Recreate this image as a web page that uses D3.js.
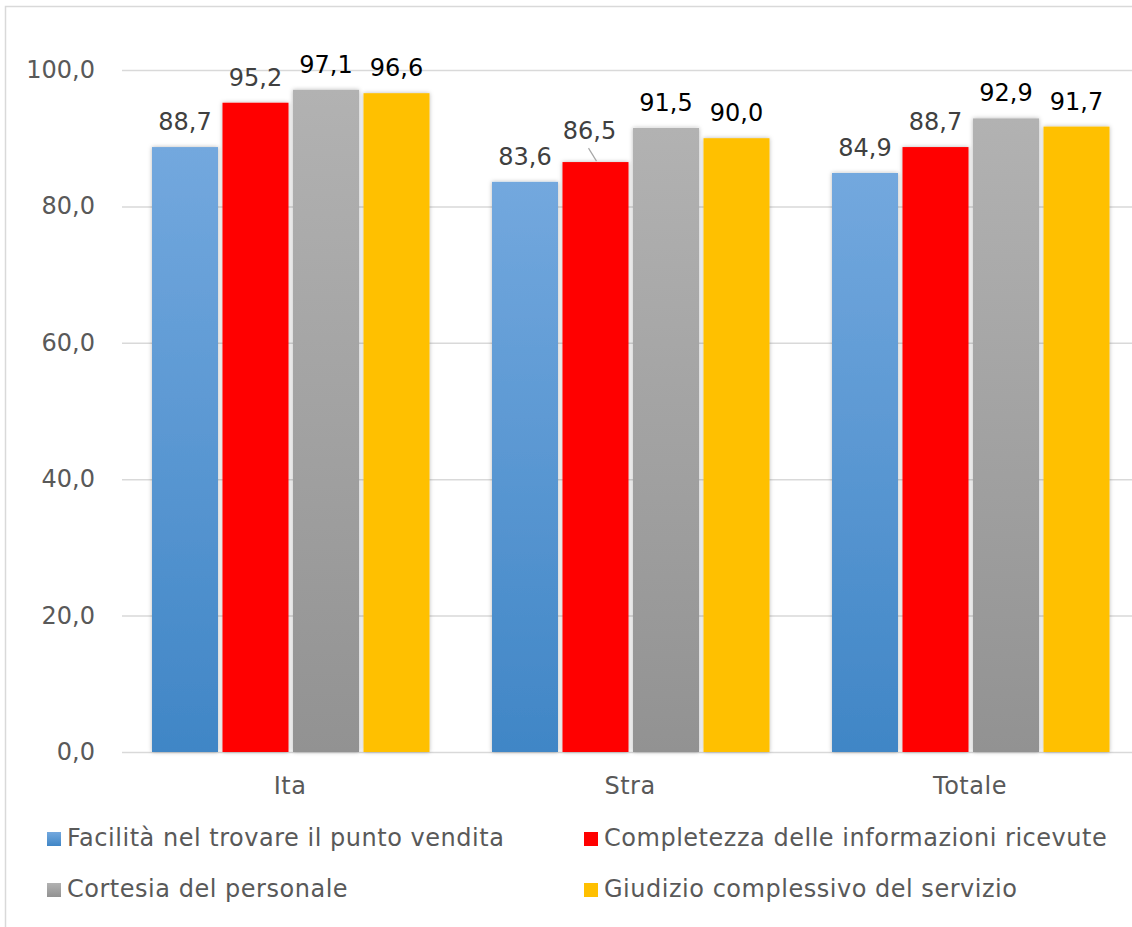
<!DOCTYPE html>
<html><head><meta charset="utf-8">
<script src="https://cdn.jsdelivr.net/npm/d3@7/dist/d3.min.js"></script>
<style>
html,body{margin:0;padding:0;background:#fff;}
svg{display:block;font-family:"DejaVu Sans",Verdana,sans-serif;}
</style></head>
<body>
<script>
const categories = ["Ita", "Stra", "Totale"];
const seriesNames = [
  "Facilità nel trovare il punto vendita",
  "Completezza delle informazioni ricevute",
  "Cortesia del personale",
  "Giudizio complessivo del servizio"
];
const facilita = [88.7, 83.6, 84.9];
const completezza = [95.2, 86.5, 88.7];
const cortesia = [97.1, 91.5, 92.9];
const giudizio = [96.6, 90.0, 91.7];
const yTicks = [0, 20, 40, 60, 80, 100];

const seriesValues = [facilita, completezza, cortesia, giudizio];
const W = 1132, H = 927;
const svg = d3.select("body").append("svg").attr("width", W).attr("height", H);

const defs = svg.append("defs");
function grad(id, c1, c2) {
  const g = defs.append("linearGradient").attr("id", id).attr("x1", 0).attr("y1", 0).attr("x2", 0).attr("y2", 1);
  g.append("stop").attr("offset", "0%").attr("stop-color", c1);
  g.append("stop").attr("offset", "100%").attr("stop-color", c2);
}
grad("gBlue", "#73a8de", "#4086c6");
grad("gGray", "#b2b2b2", "#929292");
const f = defs.append("filter").attr("id", "sh").attr("x", "-20%").attr("y", "-5%").attr("width", "140%").attr("height", "110%");
f.append("feDropShadow").attr("dx", 0).attr("dy", 0).attr("stdDeviation", 2).attr("flood-color", "#000").attr("flood-opacity", 0.28);

const fills = ["url(#gBlue)", "#ff0000", "url(#gGray)", "#ffc000"];
const legendColors = ["url(#gBlue)", "#ff0000", "url(#gGray)", "#ffc000"];
const labelColors = ["#404040", "#404040", "#000000", "#000000"];

// border
svg.append("rect").attr("x", 5.5).attr("y", 6.5).attr("width", W + 20).attr("height", H + 20)
  .attr("fill", "none").attr("stroke", "#d9d9d9").attr("stroke-width", 1.5);

const y = d3.scaleLinear().domain([0, 100]).range([752, 70]);
const x0 = d3.scaleBand().domain(categories).range([122, 1142]);
const x1 = d3.scaleBand().domain(d3.range(4)).range([30, 307.5]).paddingInner(0.064);

// gridlines
svg.append("g").selectAll("line").data(yTicks).join("line")
  .attr("x1", 122).attr("x2", W).attr("y1", d => y(d) + 0.5).attr("y2", d => y(d) + 0.5)
  .attr("stroke", "#d9d9d9").attr("stroke-width", 1.5);

// y labels
svg.append("g").selectAll("text").data(yTicks).join("text")
  .attr("x", 95).attr("y", d => y(d) + 8).attr("text-anchor", "end")
  .attr("font-size", 24).attr("fill", "#595959")
  .text(d => d3.format(".1f")(d).replace(".", ","));

// bars
const groups = svg.append("g").selectAll("g").data(categories).join("g")
  .attr("transform", d => `translate(${x0(d)},0)`);
groups.selectAll("rect").data((c, ci) => seriesValues.map((s, si) => ({si, v: s[ci]}))).join("rect")
  .attr("x", d => x1(d.si)).attr("width", x1.bandwidth())
  .attr("y", d => y(d.v)).attr("height", d => y(0) - y(d.v))
  .attr("fill", d => fills[d.si]).attr("filter", "url(#sh)");

// labels
groups.each(function(c, ci) {
  const g = d3.select(this);
  seriesValues.forEach((s, si) => {
    const v = s[ci];
    let cx = x1(si) + x1.bandwidth() / 2;
    let by = y(v) - 17;
    if (ci === 1 && si === 1) {
      g.append("line").attr("x1", cx - 7).attr("y1", y(v) - 14).attr("x2", cx + 1).attr("y2", y(v) - 1)
        .attr("stroke", "#a6a6a6").attr("stroke-width", 1.2);
      cx -= 6; by -= 6;
    }
    g.append("text").attr("x", cx).attr("y", by).attr("text-anchor", "middle")
      .attr("font-size", 24).attr("fill", labelColors[si])
      .text(d3.format(".1f")(v).replace(".", ","));
  });
});

// x labels
svg.append("g").selectAll("text").data(categories).join("text")
  .attr("x", d => x0(d) + x0.bandwidth() / 2 - 2).attr("y", 794).attr("text-anchor", "middle")
  .attr("font-size", 24).attr("letter-spacing", 0.5).attr("fill", "#595959").text(d => d);

// legend
const legPos = [[47, 832], [584, 832], [47, 883], [584, 883]];
const leg = svg.append("g").selectAll("g").data(seriesNames).join("g")
  .attr("transform", (d, i) => `translate(${legPos[i][0]},${legPos[i][1]})`);
leg.append("rect").attr("width", 14).attr("height", 14).attr("fill", (d, i) => legendColors[i]);
leg.append("text").attr("x", 20).attr("y", 14).attr("font-size", 24).attr("letter-spacing", 0.52)
  .attr("fill", "#595959").text(d => d);
</script>
</body></html>
